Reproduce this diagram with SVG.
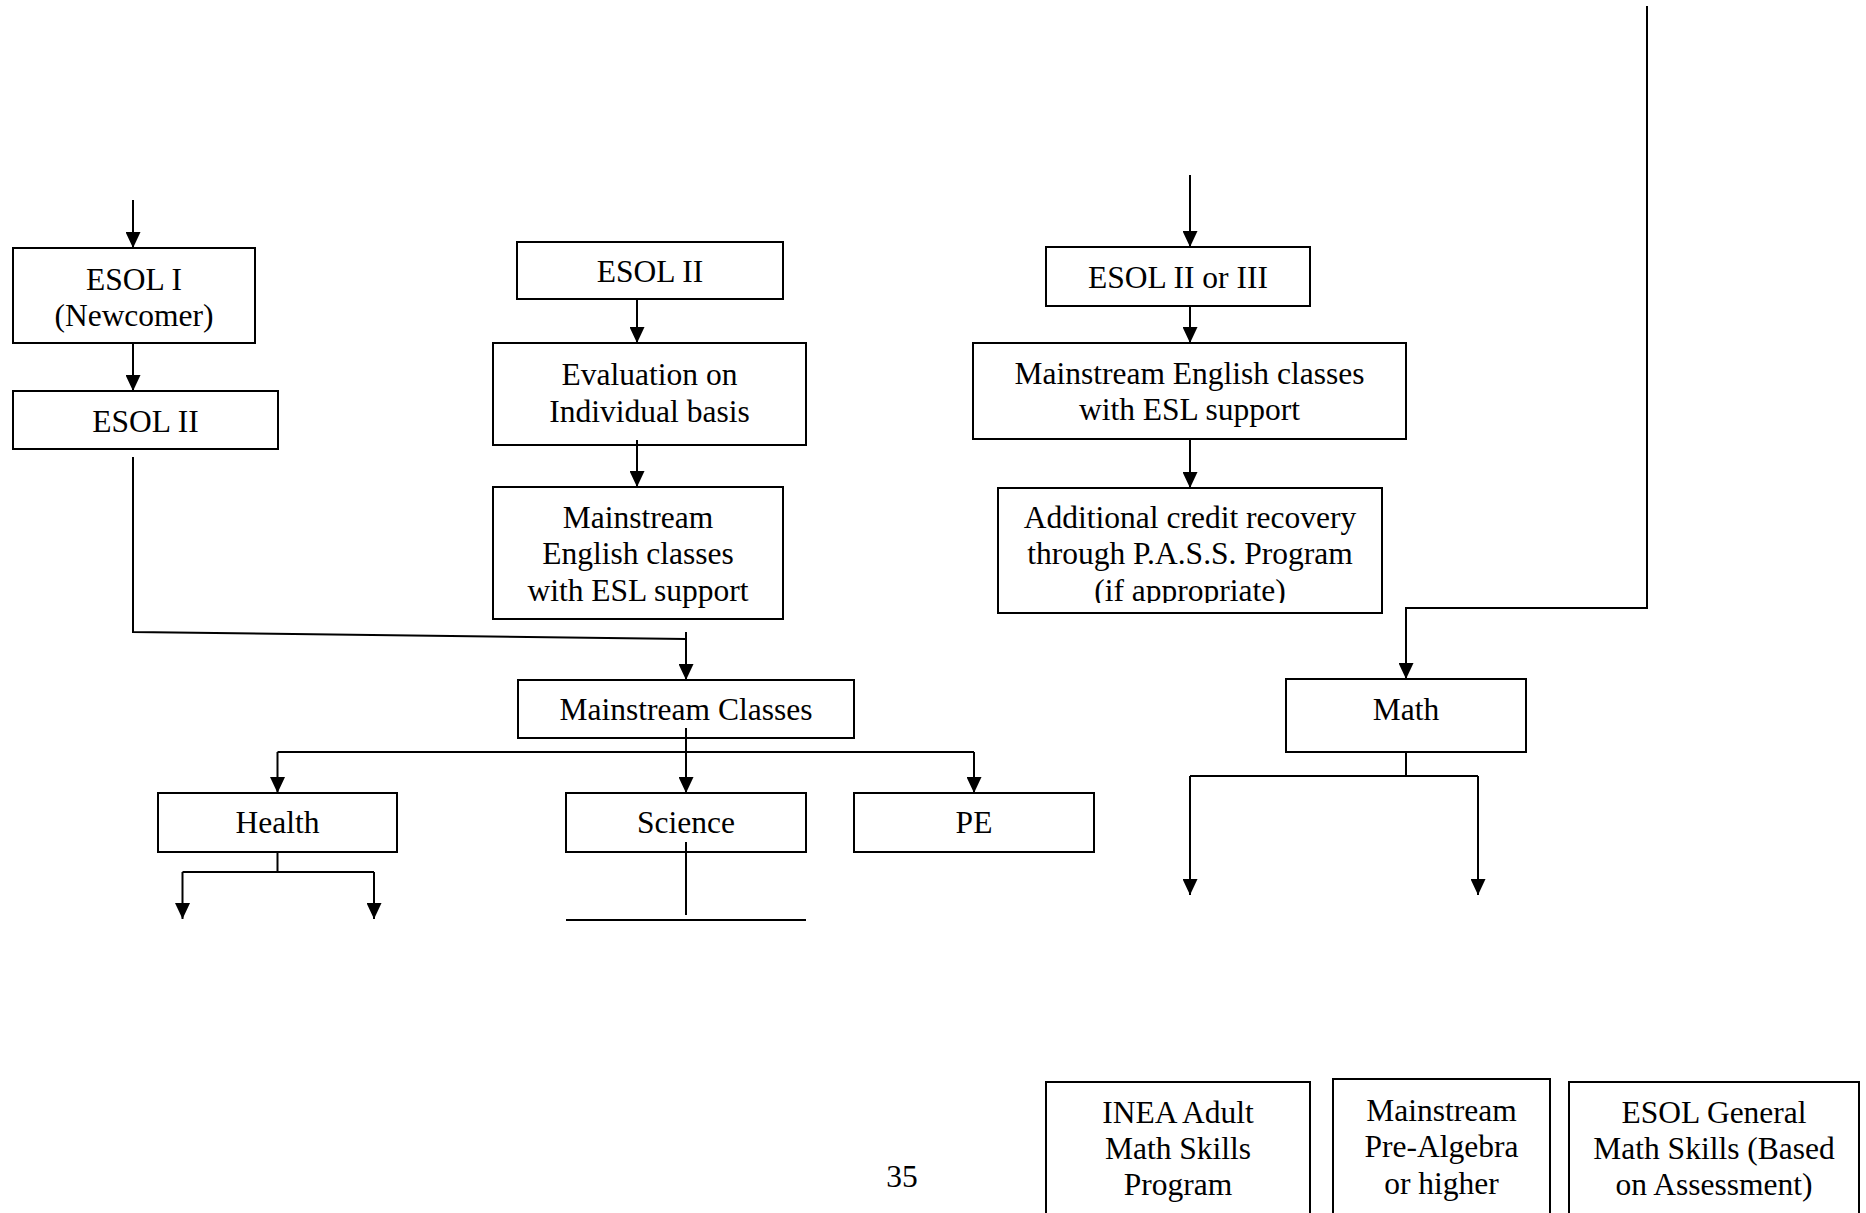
<svg xmlns="http://www.w3.org/2000/svg" width="1866" height="1213" viewBox="0 0 1866 1213">
<style>
.box{fill:#fff;stroke:#000;stroke-width:2}
.t{font-family:"Liberation Serif","Times New Roman",serif;font-size:31.5px;fill:#000;text-anchor:middle}
.c{fill:none;stroke:#000;stroke-width:2}
.a{marker-end:url(#ah)}
</style>
<defs>
<marker id="ah" viewBox="0 0 16 15" refX="16" refY="7.5" markerWidth="16" markerHeight="15" markerUnits="userSpaceOnUse" orient="auto">
<path d="M0,0 L16,7.5 L0,15 z" fill="#000"/>
</marker>
<clipPath id="clipAdd"><rect x="998" y="488" width="384" height="115"/></clipPath>
</defs>
<rect width="1866" height="1213" fill="#fff"/>
<g id="connectors">
<line class="c a" x1="133" y1="200" x2="133" y2="248"/>
<line class="c a" x1="133" y1="343" x2="133" y2="391"/>
<polyline class="c" points="133,457 133,632 686,639"/>
<line class="c a" x1="686" y1="632" x2="686" y2="680"/>
<line class="c a" x1="637" y1="299" x2="637" y2="343"/>
<line class="c a" x1="637" y1="440" x2="637" y2="487"/>
<line class="c a" x1="1190" y1="175" x2="1190" y2="247"/>
<line class="c a" x1="1190" y1="306" x2="1190" y2="343"/>
<line class="c a" x1="1190" y1="439" x2="1190" y2="488"/>
<polyline class="c a" points="1647,6 1647,608 1406,608 1406,679"/>
<line class="c a" x1="686" y1="728" x2="686" y2="793"/>
<line class="c" x1="277.5" y1="752" x2="974" y2="752"/>
<line class="c a" x1="277.5" y1="752" x2="277.5" y2="793"/>
<line class="c a" x1="974" y1="752" x2="974" y2="793"/>
<line class="c" x1="277.5" y1="848" x2="277.5" y2="872"/>
<line class="c" x1="182.5" y1="872" x2="374" y2="872"/>
<line class="c a" x1="182.5" y1="872" x2="182.5" y2="919"/>
<line class="c a" x1="374" y1="872" x2="374" y2="919"/>
<line class="c" x1="686" y1="842" x2="686" y2="915"/>
<line class="c" x1="566" y1="920" x2="806" y2="920"/>
<line class="c" x1="1406" y1="752" x2="1406" y2="776"/>
<line class="c" x1="1190" y1="776" x2="1478" y2="776"/>
<line class="c a" x1="1190" y1="776" x2="1190" y2="895"/>
<line class="c a" x1="1478" y1="776" x2="1478" y2="895"/>
</g>
<g id="esol1">
<rect class="box" x="13" y="248" width="242" height="95"/>
<text class="t" x="134" y="290">ESOL I</text>
<text class="t" x="134" y="326">(Newcomer)</text>
</g>
<g id="esol2-left">
<rect class="box" x="13" y="391" width="265" height="58"/>
<text class="t" x="145.5" y="432">ESOL II</text>
</g>
<g id="esol2-mid">
<rect class="box" x="517" y="242" width="266" height="57"/>
<text class="t" x="650" y="282">ESOL II</text>
</g>
<g id="evaluation">
<rect class="box" x="493" y="343" width="313" height="102"/>
<text class="t" x="649.5" y="385">Evaluation on</text>
<text class="t" x="649.5" y="422">Individual basis</text>
</g>
<line class="c" x1="637" y1="440" x2="637" y2="446"/>
<g id="mainstream-english-mid">
<rect class="box" x="493" y="487" width="290" height="132"/>
<text class="t" x="638" y="528">Mainstream</text>
<text class="t" x="638" y="564">English classes</text>
<text class="t" x="638" y="601">with ESL support</text>
</g>
<g id="esol2or3">
<rect class="box" x="1046" y="247" width="264" height="59"/>
<text class="t" x="1178" y="288">ESOL II or III</text>
</g>
<g id="mainstream-english-right">
<rect class="box" x="973" y="343" width="433" height="96"/>
<text class="t" x="1189.5" y="384">Mainstream English classes</text>
<text class="t" x="1189.5" y="420">with ESL support</text>
</g>
<g id="additional-credit">
<rect class="box" x="998" y="488" width="384" height="125"/>
<g clip-path="url(#clipAdd)">
<text class="t" x="1190" y="528">Additional credit recovery</text>
<text class="t" x="1190" y="564">through P.A.S.S. Program</text>
<text class="t" x="1190" y="601">(if appropriate)</text>
</g>
</g>
<g id="mainstream-classes">
<rect class="box" x="518" y="680" width="336" height="58"/>
<text class="t" x="686" y="720">Mainstream Classes</text>
</g>
<line class="c" x1="686" y1="728" x2="686" y2="740"/>
<g id="health">
<rect class="box" x="158" y="793" width="239" height="59"/>
<text class="t" x="277.5" y="833">Health</text>
</g>
<g id="science">
<rect class="box" x="566" y="793" width="240" height="59"/>
<text class="t" x="686" y="833">Science</text>
</g>
<line class="c" x1="686" y1="842" x2="686" y2="853"/>
<g id="pe">
<rect class="box" x="854" y="793" width="240" height="59"/>
<text class="t" x="974" y="833">PE</text>
</g>
<g id="math">
<rect class="box" x="1286" y="679" width="240" height="73"/>
<text class="t" x="1406" y="720">Math</text>
</g>
<g id="inea">
<rect class="box" x="1046" y="1082" width="264" height="140"/>
<text class="t" x="1178" y="1123">INEA Adult</text>
<text class="t" x="1178" y="1159">Math Skills</text>
<text class="t" x="1178" y="1195">Program</text>
</g>
<g id="pre-algebra">
<rect class="box" x="1333" y="1079" width="217" height="143"/>
<text class="t" x="1441.5" y="1121">Mainstream</text>
<text class="t" x="1441.5" y="1157">Pre-Algebra</text>
<text class="t" x="1441.5" y="1194">or higher</text>
</g>
<g id="esol-general-math">
<rect class="box" x="1569" y="1082" width="290" height="140"/>
<text class="t" x="1714" y="1123">ESOL General</text>
<text class="t" x="1714" y="1159">Math Skills (Based</text>
<text class="t" x="1714" y="1195">on Assessment)</text>
</g>
<text class="t" x="902" y="1187">35</text>
</svg>
